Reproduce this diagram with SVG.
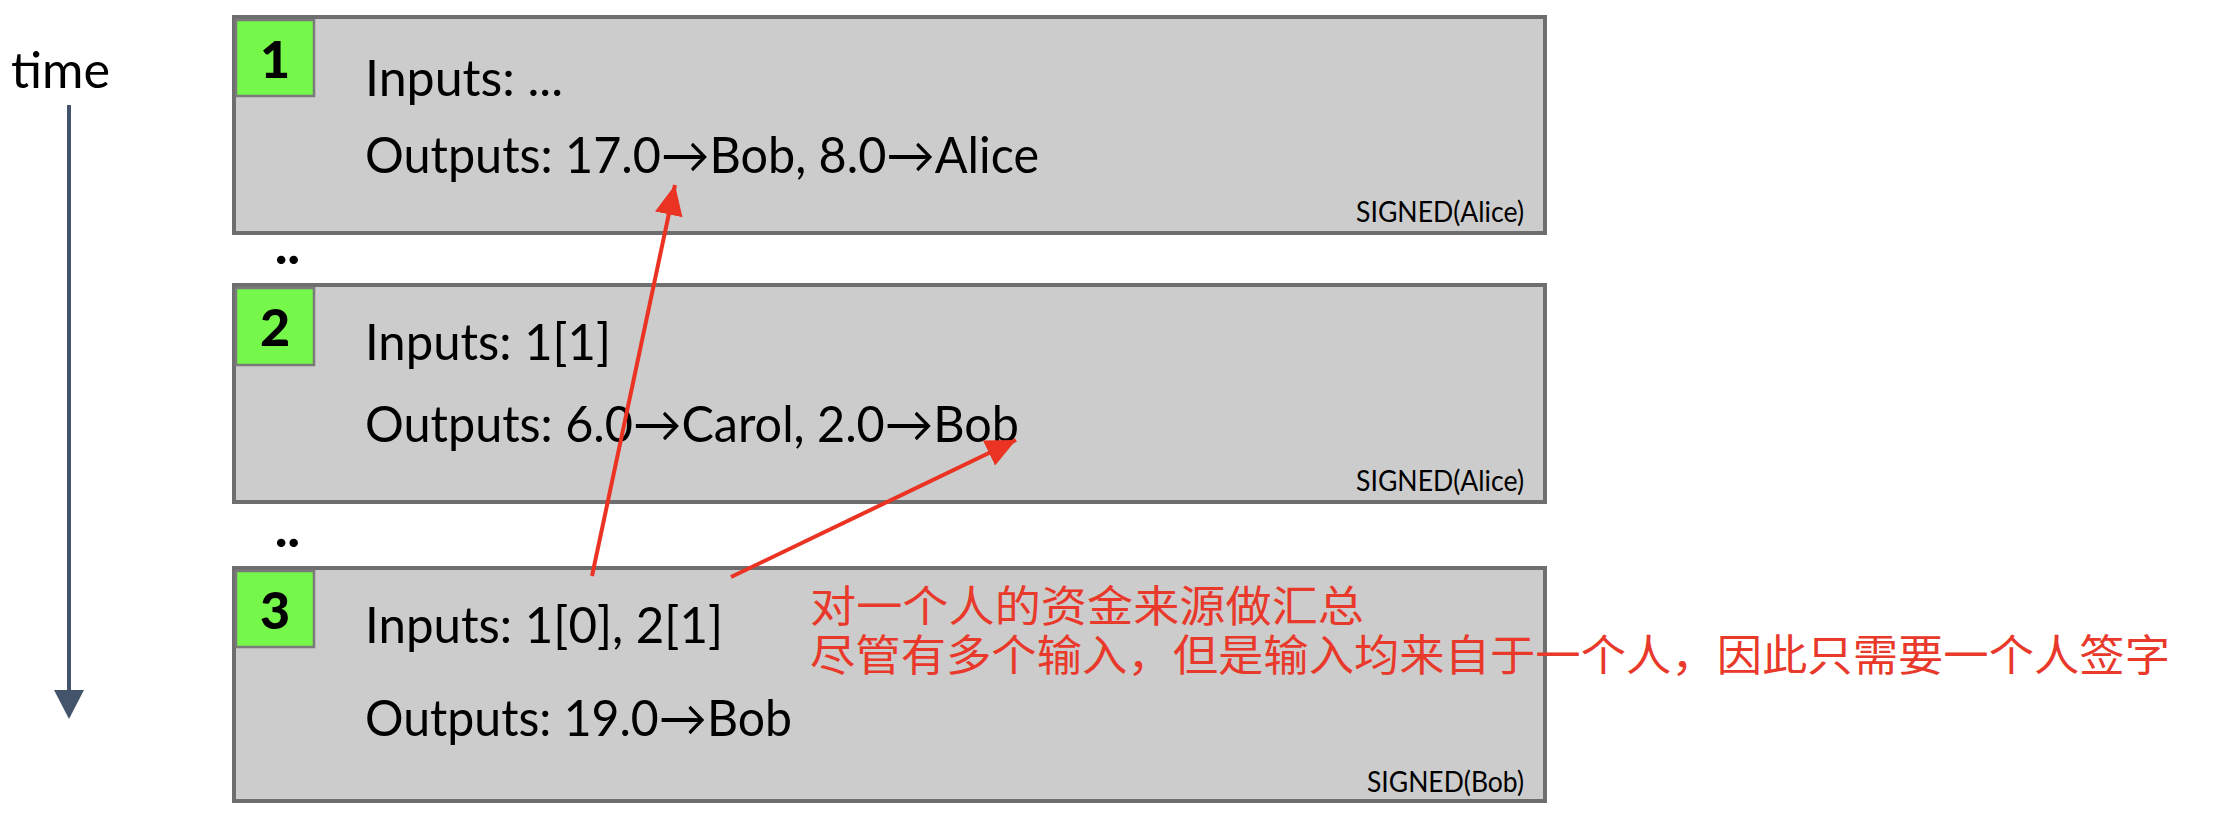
<svg xmlns="http://www.w3.org/2000/svg" width="2216" height="832" viewBox="0 0 2216 832">
<style>
.box{fill:#cccccc;stroke:#6e6e6e;stroke-width:4}
.num{fill:#76f84b;stroke:#7a7a7a;stroke-width:2.5}
.t{font-family:Lato,"Open Sans","Liberation Sans",sans-serif;font-size:50px;fill:#000}
.d{font-family:Lato,"Open Sans","Liberation Sans",sans-serif;font-size:52px;font-weight:900;fill:#000}
.s{font-family:Lato,"Open Sans","Liberation Sans",sans-serif;font-size:28px;fill:#000}
.r{font-family:"Noto Sans CJK SC",sans-serif;font-size:43px;fill:#e8392b}
.red{stroke:#ea3323;stroke-width:4;fill:none}
</style>
<defs>
<marker id="ra" markerUnits="userSpaceOnUse" viewBox="0 0 30 28" markerWidth="30" markerHeight="28" refX="30" refY="14" orient="auto">
<path d="M0,0 L30,14 L0,28 Z" fill="#ea3323"/>
</marker>
</defs>
<g id="timeline">
<text class="t" x="11" y="88" textLength="99" lengthAdjust="spacingAndGlyphs">time</text>
<line x1="69" y1="105" x2="69" y2="692" stroke="#44546a" stroke-width="4"/>
<path d="M54,690 L84,690 L69,719 Z" fill="#44546a"/>
</g>
<g id="tx1">
<rect class="box" x="234" y="17" width="1311" height="216"/>
<rect class="num" x="236" y="20" width="78" height="76"/>
<text class="d" x="275" y="78" text-anchor="middle">1</text>
<text class="t" x="365" y="96" textLength="198" lengthAdjust="spacingAndGlyphs">Inputs: ...</text>
<text class="t" x="365" y="173" textLength="674" lengthAdjust="spacingAndGlyphs">Outputs: 17.0→Bob, 8.0→Alice</text>
<text class="s" x="1524" y="222" text-anchor="end" textLength="168" lengthAdjust="spacingAndGlyphs">SIGNED(Alice)</text>
</g>
<text class="d" x="275" y="264" font-size="40">..</text>
<g id="tx2">
<rect class="box" x="234" y="285" width="1311" height="217"/>
<rect class="num" x="236" y="288" width="78" height="77"/>
<text class="d" x="275" y="346" text-anchor="middle">2</text>
<text class="t" x="365" y="360" textLength="246" lengthAdjust="spacingAndGlyphs">Inputs: 1[1]</text>
<text class="t" x="365" y="442" textLength="654" lengthAdjust="spacingAndGlyphs">Outputs: 6.0→Carol, 2.0→Bob</text>
<text class="s" x="1524" y="491" text-anchor="end" textLength="168" lengthAdjust="spacingAndGlyphs">SIGNED(Alice)</text>
</g>
<text class="d" x="275" y="547" font-size="40">..</text>
<g id="tx3">
<rect class="box" x="234" y="568" width="1311" height="233"/>
<rect class="num" x="236" y="571" width="78" height="76"/>
<text class="d" x="275" y="629" text-anchor="middle">3</text>
<text class="t" x="365" y="643" textLength="358" lengthAdjust="spacingAndGlyphs">Inputs: 1[0], 2[1]</text>
<text class="t" x="365" y="736" textLength="427" lengthAdjust="spacingAndGlyphs">Outputs: 19.0→Bob</text>
<text class="s" x="1524" y="792" text-anchor="end" textLength="157" lengthAdjust="spacingAndGlyphs">SIGNED(Bob)</text>
</g>
<g id="connectors">
<line class="red" x1="592" y1="576" x2="675" y2="185" marker-end="url(#ra)"/>
<line class="red" x1="731" y1="577" x2="1016" y2="440" marker-end="url(#ra)"/>
</g>
<g id="note">
<text class="r" x="810" y="622" textLength="554" lengthAdjust="spacingAndGlyphs">对一个人的资金来源做汇总</text>
<text class="r" x="810" y="671" textLength="1360" lengthAdjust="spacingAndGlyphs">尽管有多个输入，但是输入均来自于一个人，因此只需要一个人签字</text>
</g>
</svg>
